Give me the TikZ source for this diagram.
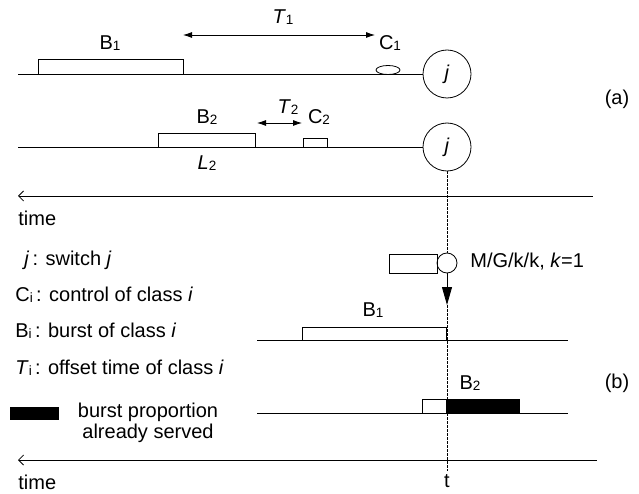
\documentclass[tikz,border=0pt]{standalone}
\usepackage{fontspec}
\setmainfont{Liberation Sans}
\usetikzlibrary{arrows.meta}
\newcommand\sbs[1]{\raisebox{-0.5pt}{\fontsize{13.5}{13.5}\selectfont #1}}
\begin{document}
\begin{tikzpicture}[x=1pt,y=-1pt,line width=0.8pt,
  lbl/.style={font=\fontsize{20}{20.5}\selectfont,inner sep=0pt},
  sw/.style={circle,draw,minimum size=48pt,inner sep=0pt,font=\fontsize{20}{20.5}\selectfont},
  qcirc/.style={circle,draw,minimum size=20pt,inner sep=0pt},
  tarrow/.style={{Latex[length=9pt,width=6pt]}-{Latex[length=9pt,width=6pt]}},
  timeax/.style={{Straight Barb[length=5pt,width=10pt]}-},
  dsh/.style={dash pattern=on 2.5pt off 1.5pt}
]
\useasboundingbox (0,0) rectangle (639,494);
% ---- (a) ----
\node[sw] (j1) at (447,74) {\textit{j}};
\node[sw] (j2) at (447,147) {\textit{j}};
\coordinate (l1s) at (18,74);
\coordinate (l2s) at (18,147);
\draw (l1s) -- (j1.west);
\draw (l2s) -- (j2.west);
\draw (38,74) rectangle (183,59);
\draw (388,70) ellipse [x radius=12,y radius=4.5];
\coordinate (t1a) at (183,35);
\coordinate (t1b) at (375,35);
\draw[tarrow] (t1a) -- (t1b);
\node[lbl] (T1) at (283,17) {\textit{T}\sbs{1}};
\node[lbl] (B1a) at (110,43) {B\sbs{1}};
\node[lbl] (C1) at (390,43) {C\sbs{1}};
\draw (158,147) rectangle (255,133);
\draw (303,147) rectangle (327,138);
\coordinate (t2a) at (257,123);
\coordinate (t2b) at (302,123);
\draw[tarrow] (t2a) -- (t2b);
\node[lbl] (T2) at (288,107) {\textit{T}\sbs{2}};
\node[lbl] (B2a) at (207,117) {B\sbs{2}};
\node[lbl] (C2) at (319,117) {C\sbs{2}};
\node[lbl] (L2) at (207,163) {\textit{L}\sbs{2}};
\coordinate (ta1) at (18,196);
\coordinate (ta2) at (593,196);
\draw[timeax] (ta1) -- (ta2);
\node[lbl,anchor=west] (time1) at (18,218) {time};
\node[lbl] (la) at (617,99) {(a)};
% ---- (b) ----
\node[qcirc] (q) at (447,263) {};
\draw (389,254) rectangle (437,273);
\coordinate (qa) at (447,305);
\coordinate (dend) at (447,471);
\draw[dsh] (j2.south) -- (q.north);
\draw[-{Triangle[length=18pt,width=10pt]}] (q.south) -- (qa);
\draw[dsh] (qa) -- (dend);
\node[lbl,anchor=west] (mg) at (470,262) {M/G/k/k, \textit{k}=1};
\coordinate (b1s) at (257,340);
\coordinate (b1e) at (568,340);
\draw (b1s) -- (b1e);
\draw (302,340) rectangle (446,327);
\node[lbl] (B1b) at (373,310) {B\sbs{1}};
\coordinate (b2s) at (257,413);
\coordinate (b2e) at (568,413);
\draw (b2s) -- (b2e);
\draw (422,413) rectangle (446,399);
\fill (446,413) rectangle (519,399);
\draw (446,413) rectangle (519,399);
\node[lbl] (B2b) at (470,383) {B\sbs{2}};
\node[lbl] (lb) at (617,383) {(b)};
\coordinate (tb1) at (18,460);
\coordinate (tb2) at (597,460);
\draw[timeax] (tb1) -- (tb2);
\node[lbl,anchor=west] (time2) at (18,482) {time};
\node[lbl] (tt) at (447,481) {t};
% legend
\node[lbl,anchor=west] (lg1) at (24,260) {\textit{j}\,: switch \textit{j}};
\node[lbl,anchor=west] (lg2) at (15,295) {C\sbs{i}\,: control of class \textit{i}};
\node[lbl,anchor=west] (lg3) at (15,331) {B\sbs{i}\,: burst of class \textit{i}};
\node[lbl,anchor=west] (lg4) at (15,368) {\textit{T}\sbs{i}\,: offset time of class \textit{i}};
\fill (10,407) rectangle (59,420);
\node[lbl,align=center] (lg5) at (148,423) {burst proportion\\already served};
\end{tikzpicture}
\end{document}
